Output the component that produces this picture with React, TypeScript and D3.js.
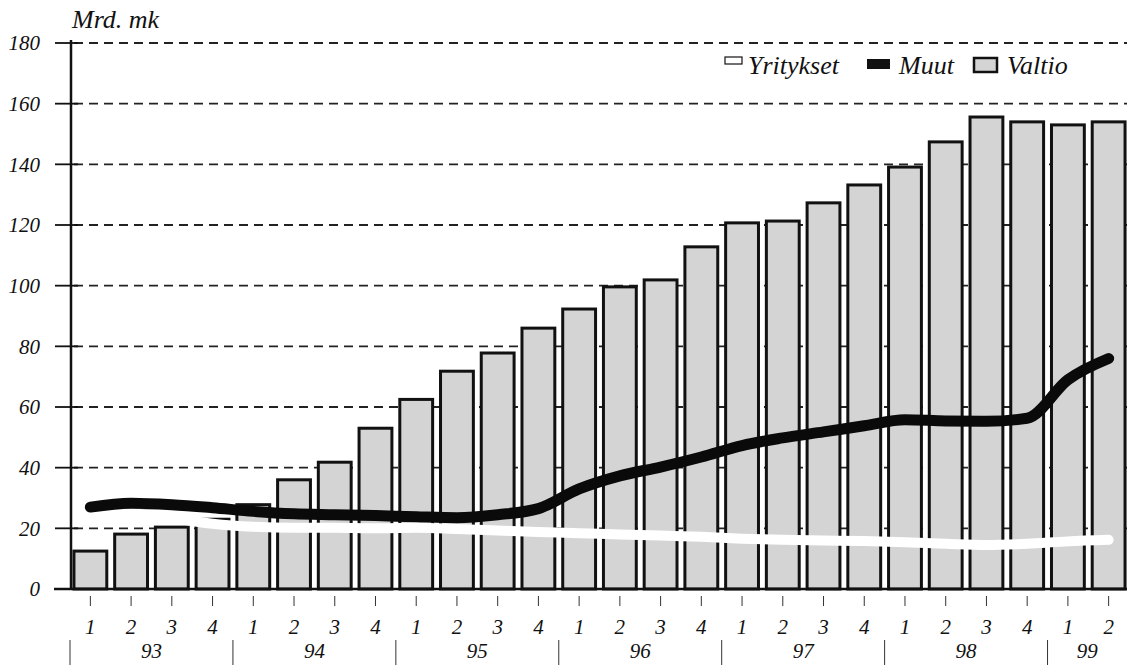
import { useEffect } from "react";
import * as d3 from "d3";

const quarterLabels = [
  "1", "2", "3", "4", "1", "2", "3", "4", "1", "2", "3", "4", "1", "2", "3", "4",
  "1", "2", "3", "4", "1", "2", "3", "4", "1", "2",
];
const yearLabels = ["93", "94", "95", "96", "97", "98", "99"];
const yearQuarterCounts = [4, 4, 4, 4, 4, 4, 2];

// Valtio (bars)
const valtio = [
  12.5, 18.1, 20.4, 23, 27.8, 36, 41.8, 53, 62.5, 71.8, 77.8, 86, 92.3, 99.6, 101.9,
  112.8, 120.7, 121.3, 127.3, 133.2, 139.1, 147.4, 155.6, 154, 153, 154,
];
// Muut (black line)
const muut = [
  27, 28.3, 27.8, 26.8, 25.6, 24.8, 24.5, 24.2, 23.8, 23.5, 24.5, 26.5, 33, 37.3, 40.2,
  43.5, 47.3, 49.8, 51.8, 53.8, 55.8, 55.4, 55.3, 56.3, 69, 76,
];
// Yritykset (white line)
const yritykset: (number | null)[] = [
  null, null, 23.5, 21.5, 20.5, 20.2, 20.2, 20.0, 20.2, 19.8, 19.3, 18.8, 18.4, 18.0,
  17.6, 17.2, 16.6, 16.2, 16.0, 15.8, 15.4, 14.9, 14.5, 14.9, 15.7, 16.2,
];
const yTicks = [0, 20, 40, 60, 80, 100, 120, 140, 160, 180];

const W = 1127;
const H = 665;
const FONT = "'Liberation Serif', 'DejaVu Serif', serif";

export default function App() {
  useEffect(() => {
    document.body.style.margin = "0";
  }, []);

  const idx = quarterLabels.map((_, i) => i);
  const x = d3
    .scaleBand<number>()
    .domain(idx)
    .range([70, 1129])
    .paddingInner(0.12)
    .paddingOuter(0.06);
  const y = d3.scaleLinear().domain([0, 180]).range([589, 43]);
  const cx = (i: number) => (x(i) as number) + x.bandwidth() / 2;
  const step = x.step();

  const line = d3
    .line<number | null>()
    .defined((d) => d != null)
    .x((_, i) => cx(i))
    .y((d) => y(d as number))
    .curve(d3.curveMonotoneX);

  // year separators
  let acc = 0;
  const yearBounds = yearQuarterCounts.map((n) => {
    const start = acc;
    acc += n;
    return { start, end: acc };
  });
  const bx = (k: number) => 70 + k * step;

  return (
    <svg width={W} height={H} style={{ display: "block", background: "#fff" }}>
      {/* gridlines */}
      {yTicks.filter((t) => t > 0).map((t) => (
        <line
          key={t}
          x1={74}
          x2={W}
          y1={y(t)}
          y2={y(t)}
          stroke="#222"
          strokeWidth={1.8}
          strokeDasharray="9,6"
        />
      ))}
      {/* y ticks & labels */}
      {yTicks.map((t) => (
        <g key={t}>
          <line x1={55} x2={78} y1={y(t)} y2={y(t)} stroke="#111" strokeWidth={1.8} />
          <text
            x={40}
            y={y(t)}
            dy="0.35em"
            textAnchor="end"
            fontFamily={FONT}
            fontStyle="italic"
            fontSize={21}
            fill="#111"
          >
            {t}
          </text>
        </g>
      ))}
      <text x={72} y={28} fontFamily={FONT} fontStyle="italic" fontSize={26} fill="#111">
        Mrd. mk
      </text>

      {/* bars */}
      {valtio.map((v, i) => (
        <rect
          key={i}
          x={(x(i) as number) + 1.5}
          y={y(v)}
          width={x.bandwidth() - 3}
          height={y(0) - y(v)}
          fill="#d4d4d4"
          stroke="#111"
          strokeWidth={3}
        />
      ))}

      {/* lines */}
      <path
        d={line(muut) ?? ""}
        fill="none"
        stroke="#0a0a0a"
        strokeWidth={11}
        strokeLinecap="round"
      />
      <path
        d={line(yritykset) ?? ""}
        fill="none"
        stroke="#fff"
        strokeWidth={10}
        strokeLinecap="round"
      />

      {/* axes */}
      <line x1={71} x2={71} y1={40} y2={590} stroke="#111" strokeWidth={2.5} />
      <line x1={54} x2={W} y1={589} y2={589} stroke="#111" strokeWidth={2.5} />

      {/* x ticks & quarter labels */}
      {quarterLabels.map((q, i) => (
        <g key={i}>
          <line x1={cx(i)} x2={cx(i)} y1={596} y2={606} stroke="#333" strokeWidth={1} />
          <text
            x={cx(i)}
            y={634}
            textAnchor="middle"
            fontFamily={FONT}
            fontStyle="italic"
            fontSize={21}
            fill="#111"
          >
            {q}
          </text>
        </g>
      ))}
      {/* years */}
      {yearBounds.map((b, k) => (
        <g key={k}>
          <line x1={bx(b.start)} x2={bx(b.start)} y1={640} y2={H} stroke="#333" strokeWidth={1} />
          <text
            x={(bx(b.start) + Math.min(bx(b.end), W)) / 2}
            y={658}
            textAnchor="middle"
            fontFamily={FONT}
            fontStyle="italic"
            fontSize={21}
            fill="#111"
          >
            {yearLabels[k]}
          </text>
        </g>
      ))}

      {/* legend */}
      <g fontFamily={FONT} fontStyle="italic" fontSize={26} fill="#111">
        <rect x={725} y={57} width={17} height={7} fill="#fff" stroke="#111" strokeWidth={1.2} />
        <text x={748} y={74}>Yritykset</text>
        <rect x={867} y={59} width={23} height={10} fill="#111" />
        <text x={899} y={74}>Muut</text>
        <rect x={974} y={58} width={23} height={14} fill="#d4d4d4" stroke="#111" strokeWidth={2.5} />
        <text x={1007} y={74}>Valtio</text>
      </g>
    </svg>
  );
}
